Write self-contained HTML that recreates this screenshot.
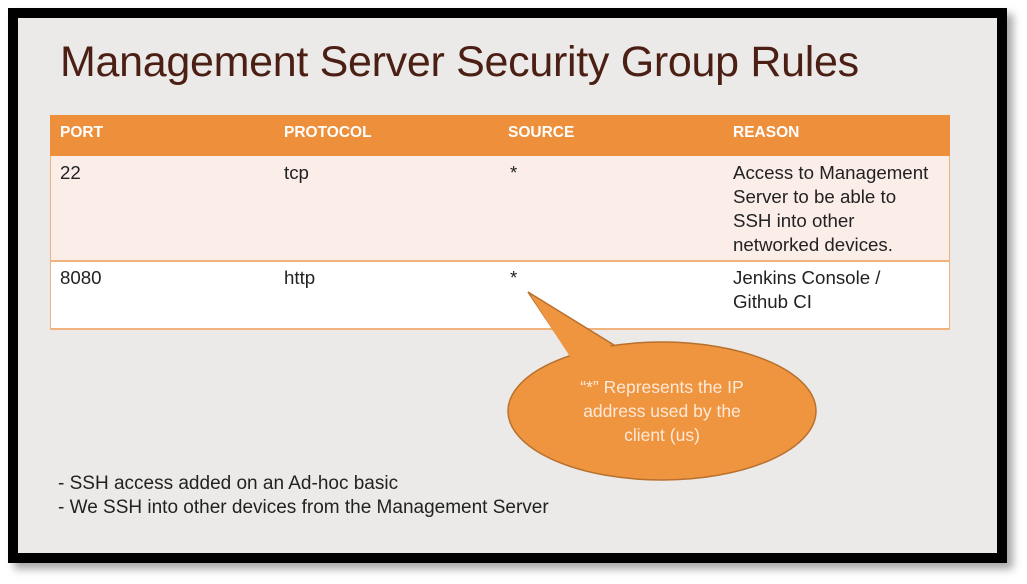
<!DOCTYPE html>
<html><head><meta charset="utf-8"><style>
body{margin:0;width:1027px;height:584px;background:#fff;position:relative;overflow:hidden;font-family:"Liberation Sans",sans-serif}
.frame{position:absolute;left:8px;top:8px;width:979px;height:535px;border:10px solid #000;background:#ebeae8;box-shadow:6px 6px 8px rgba(0,0,0,0.35)}
.t{position:absolute;white-space:nowrap}
.title{left:60px;top:38px;font-size:43px;color:#4b1f14;letter-spacing:-0.3px}
.h{position:absolute;left:50px;top:115px;width:900px;height:41px;background:#ee8f3b}
.r1{position:absolute;left:50px;top:156px;width:898px;height:104px;background:#fbeee9;border-left:1px solid #f1b27c;border-right:1px solid #f1b27c;border-bottom:2px solid #f1b27c}
.r2{position:absolute;left:50px;top:262px;width:898px;height:66px;background:#fff;border-left:1px solid #f1b27c;border-right:1px solid #f1b27c;border-bottom:2px solid #f1b27c}
.hd{color:#fff;font-size:15.5px;font-weight:bold;top:124px}
.c{font-size:18.7px;color:#222;line-height:24px}
.n{font-size:19px;color:#222}
</style></head><body>
<div class="frame"></div>
<div class="t title">Management Server Security Group Rules</div>
<div class="h"></div><div class="r1"></div><div class="r2"></div>
<div class="t hd" style="left:60px">PORT</div>
<div class="t hd" style="left:284px">PROTOCOL</div>
<div class="t hd" style="left:508px">SOURCE</div>
<div class="t hd" style="left:733px">REASON</div>
<div class="t c" style="left:60px;top:161px">22</div>
<div class="t c" style="left:284px;top:161px">tcp</div>
<div class="t c" style="left:510px;top:161px">*</div>
<div class="t c" style="left:733px;top:161px">Access to Management<br>Server to be able to<br>SSH into other<br>networked devices.</div>
<div class="t c" style="left:60px;top:266px">8080</div>
<div class="t c" style="left:284px;top:266px">http</div>
<div class="t c" style="left:510px;top:266px">*</div>
<div class="t c" style="left:733px;top:266px">Jenkins Console /<br>Github CI</div>
<svg style="position:absolute;left:0;top:0" width="1027" height="584">
<polygon points="528,292 622,350 575,362" fill="#ef953f" stroke="#b8702e" stroke-width="1.5"/>
<ellipse cx="662" cy="411" rx="154" ry="69" fill="#ef953f" stroke="#b8702e" stroke-width="1.5"/>
<polygon points="531,296 620,352 576,366" fill="#ef953f"/>
</svg>
<div class="t" style="left:510px;top:375px;width:304px;text-align:center;color:#fde9d8;font-size:17.5px;line-height:24px;white-space:normal">“*” Represents the IP<br>address used by the<br>client (us)</div>
<div class="t n" style="left:58px;top:473px">- SSH access added on an Ad-hoc basic</div>
<div class="t n" style="left:58px;top:497px">- We SSH into other devices from the Management Server</div>
</body></html>
